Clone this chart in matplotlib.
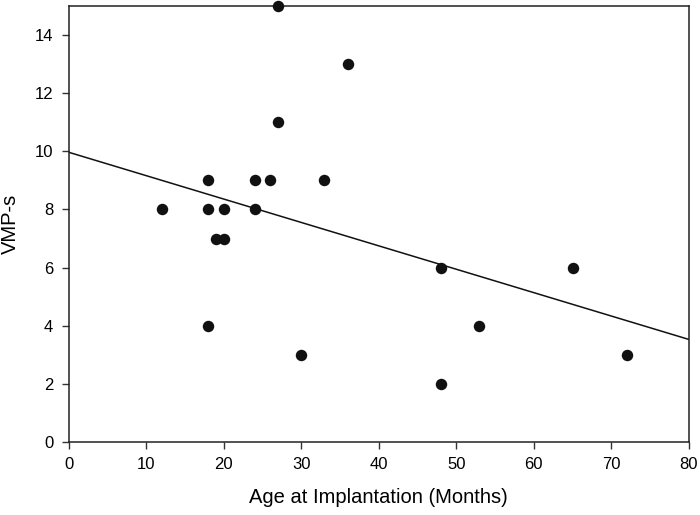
import matplotlib
matplotlib.use("Agg")
import matplotlib.pyplot as plt
import numpy as np

age_months = [12, 18, 18, 18, 19, 20, 20, 24, 24, 26, 27, 27, 30, 33, 36, 48, 48, 53, 65, 72]
vmp_s = [8, 9, 8, 4, 7, 7, 8, 9, 8, 9, 15, 11, 3, 9, 13, 6, 2, 4, 6, 3]
fit_x = [0, 80]
fit_y = [9.97, 3.53]
x_ticks = [0, 10, 20, 30, 40, 50, 60, 70, 80]
y_ticks = [0, 2, 4, 6, 8, 10, 12, 14]

plt.rcParams['font.family'] = ['Liberation Sans', 'DejaVu Sans']

fig = plt.figure(figsize=(7, 5.15), dpi=100)
ax = fig.add_axes([0.098, 0.1417, 0.886, 0.8466])

ax.plot(fit_x, fit_y, color='#111111', lw=1.1, zorder=2)
ax.scatter(age_months, vmp_s, s=68, color='#111111', zorder=3, clip_on=False, linewidths=0)

ax.set_xlim(0, 80)
ax.set_ylim(0, 15)
ax.set_xticks(x_ticks)
ax.set_yticks(y_ticks)
ax.tick_params(direction='out', length=5, width=1, color='#333333', labelsize=12, pad=6,
               top=False, right=False)
for s in ax.spines.values():
    s.set_linewidth(1.1)
    s.set_color('#222222')

ax.set_xlabel('Age at Implantation (Months)', fontsize=14.5, labelpad=11)
ax.set_ylabel('VMP-s', fontsize=14.5, labelpad=11)

fig.savefig('out.png', dpi=100)
